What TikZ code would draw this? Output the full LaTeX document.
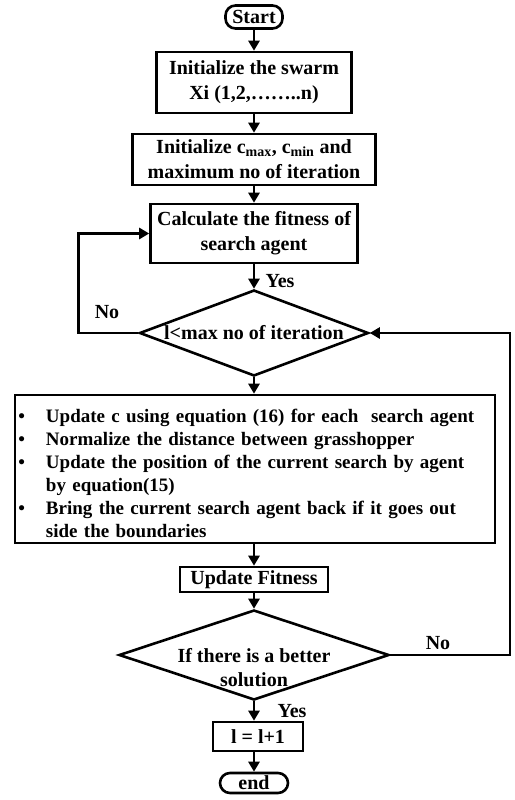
\documentclass[tikz,border=0pt]{standalone}
\usepackage{fontspec}
\setmainfont{Liberation Serif}
\usetikzlibrary{shapes.geometric,arrows.meta}

\tikzset{
  box/.style={draw,line width=2.6pt,inner sep=0pt,align=center},
  term/.style={draw,line width=2.6pt,rounded corners=10pt,inner sep=0pt},
  decide/.style={draw,line width=2.6pt,diamond,inner sep=0pt},
  flow/.style={line width=2.6pt,-{Triangle[length=10pt,width=11pt]}},
  lbl/.style={inner sep=0pt}
}

\begin{document}
\begin{tikzpicture}[x=1pt,y=-1pt,font=\fontsize{20}{25}\selectfont\bfseries]
\useasboundingbox (0,0) rectangle (514,800);

%terminals and process boxes
\node [term,minimum width=57,minimum height=23] (start) at (254,17) {Start};
\node [box,minimum width=195,minimum height=61] (init) at (254,82.5)
  {Initialize the swarm\\Xi (1,2,\dots\dots..n)};
\node [box,minimum width=243,minimum height=51] (param) at (254,159.5)
  {Initialize c\textsubscript{max}, c\textsubscript{min} and\\maximum no of iteration};
\node [box,minimum width=207,minimum height=59] (fit) at (254,233.5)
  {Calculate the fitness of\\search agent};

%first decision
\node [decide,aspect=2.64,minimum width=229,minimum height=86] (cond) at (254,333)
  {l<max no of iteration};

%update block
\node [box,minimum width=480,minimum height=148,text width=478,align=left,
  font=\fontsize{19}{23}\selectfont\bfseries] (upd) at (255,469)
  {\begin{list}{\textbullet}{\setlength{\leftmargin}{30pt}\setlength{\labelsep}{21pt}%
     \setlength{\topsep}{0pt}\setlength{\partopsep}{0pt}\setlength{\itemsep}{0pt}%
     \setlength{\parsep}{0pt}\raggedright}
   \item Update c using equation (16) for each\ \ search agent
   \item Normalize the distance between grasshopper
   \item Update the position of the current search by agent\\by equation(15)
   \item Bring the current search agent back if it goes out\\side the boundaries
   \end{list}};

\node [box,minimum width=148,minimum height=25] (updfit) at (254,579.5) {Update Fitness};

%second decision
\node [decide,aspect=3,minimum width=270,minimum height=90] (better) at (254,655)
  {\raisebox{-20pt}[0pt][0pt]{\renewcommand{\arraystretch}{0.96}%
   \begin{tabular}{@{}c@{}}If there is a better\\solution\end{tabular}}};

\node [box,minimum width=90,minimum height=29] (incr) at (258,736.5) {l = l+1};
\node [term,minimum width=68,minimum height=20] (stop) at (254,783) {end};

%main flow
\draw [flow] (start.south) -- (init.north);
\draw [flow] (init.south) -- (param.north);
\draw [flow] (param.south) -- (fit.north);
\draw [flow] (fit.south) -- (cond.north);
\draw [flow] (cond.south) -- (upd.north -| cond.south);
\draw [flow] (upd.south -| updfit.north) -- (updfit.north);
\draw [flow] (updfit.south) -- (better.north);
\draw [flow] (better.south) -- (better.south |- incr.north);
\draw [flow] (incr.south -| stop.north) -- (stop.north);

%loops
\coordinate (rgt) at (510,655);
\draw [flow] (cond.west) -- ++(-60,0) |- (fit.west);
\draw [flow] (better.east) -- (rgt) |- (cond.east);

%labels
\node [lbl] (yes1) at (280,281) {Yes};
\node [lbl] (no1) at (107,312) {No};
\node [lbl] (no2) at (438,643) {No};
\node [lbl] (yes2) at (292,711) {Yes};

\end{tikzpicture}
\end{document}
